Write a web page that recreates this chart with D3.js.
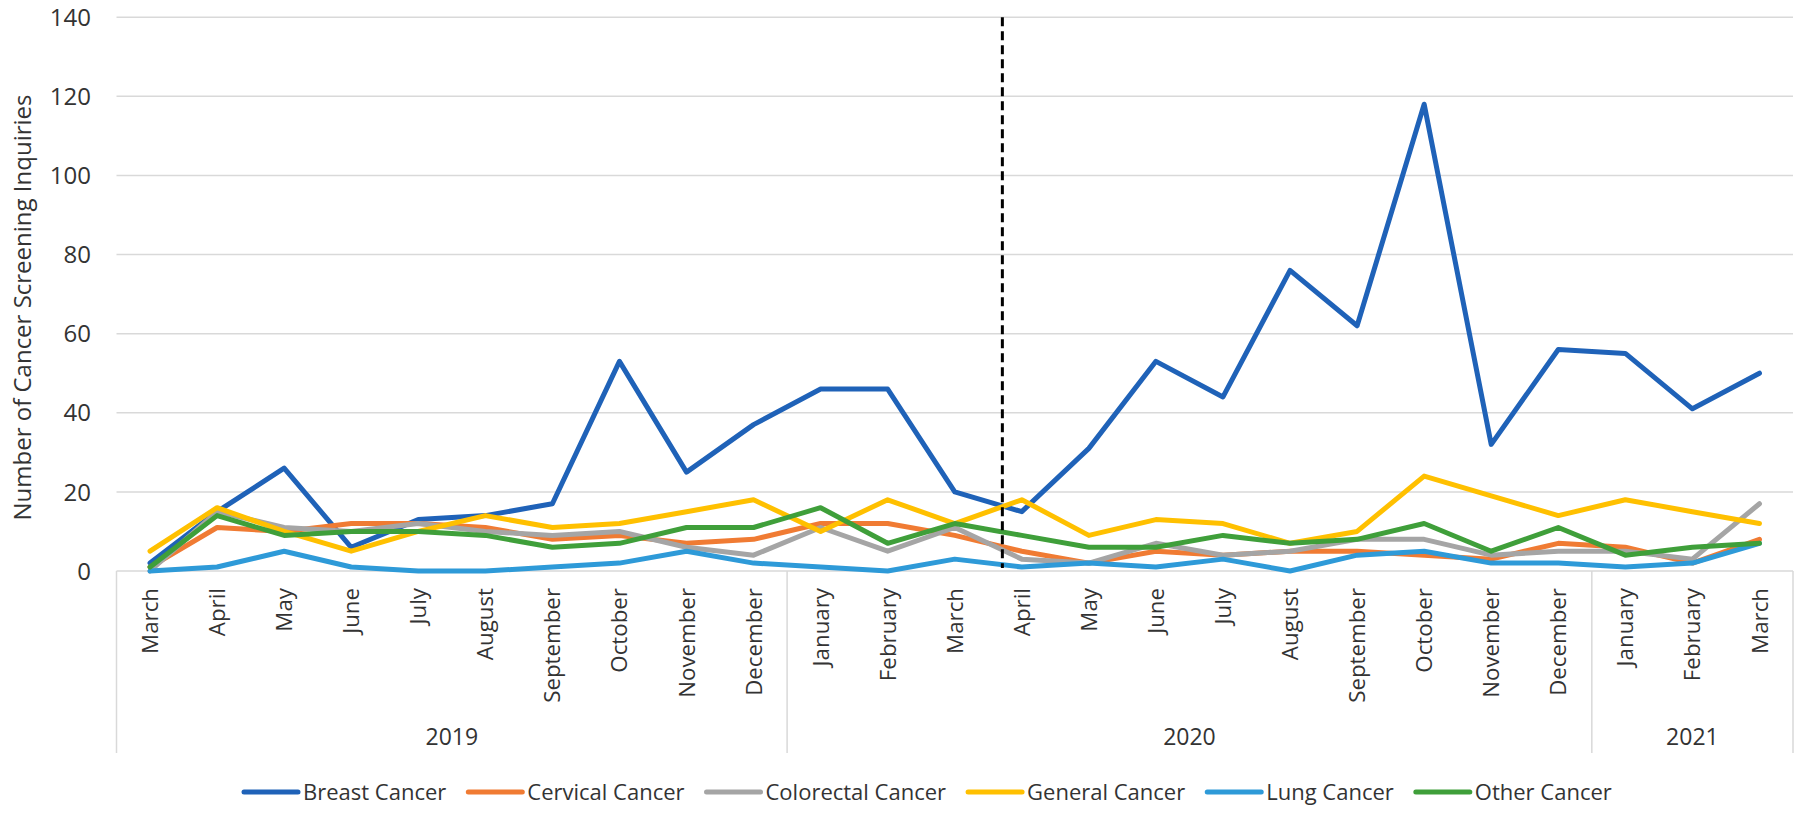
<!DOCTYPE html>
<html>
<head>
<meta charset="utf-8">
<script src="https://cdn.jsdelivr.net/npm/d3@7"></script>
<style>
  html, body { margin: 0; padding: 0; background: #fff; }
  svg { display: block; }
  text { font-family: "Open Sans", "Noto Sans", sans-serif; fill: #333; }
</style>
</head>
<body>
<svg id="chart" width="1800" height="817"></svg>
<script>
// ---------- DATA ----------
const months = ["March","April","May","June","July","August","September","October","November","December",
                "January","February","March","April","May","June","July","August","September","October","November","December",
                "January","February","March"];
const years = [
  { label: "2019", start: 0, end: 9 },
  { label: "2020", start: 10, end: 21 },
  { label: "2021", start: 22, end: 24 }
];
const seriesNames = ["Breast Cancer","Cervical Cancer","Colorectal Cancer","General Cancer","Lung Cancer","Other Cancer"];
const breast     = [2,15,26,6,13,14,17,53,25,37,46,46,20,15,31,53,44,76,62,118,32,56,55,41,50];
const cervical   = [1,11,10,12,12,11,8,9,7,8,12,12,9,5,2,5,4,5,5,4,3,7,6,2,8];
const colorectal = [0,15,11,10,12,10,9,10,6,4,11,5,11,3,2,7,4,5,8,8,4,5,5,3,17];
const general    = [5,16,10,5,10,14,11,12,15,18,10,18,12,18,9,13,12,7,10,24,19,14,18,15,12];
const lung       = [0,1,5,1,0,0,1,2,5,2,1,0,3,1,2,1,3,0,4,5,2,2,1,2,7];
const other      = [1,14,9,10,10,9,6,7,11,11,16,7,12,9,6,6,9,7,8,12,5,11,4,6,7];
const yTicks = [0,20,40,60,80,100,120,140];
const dividerIndex = 12.71; // position of the dashed divider, in month-index units
const yTitle = "Number of Cancer Screening Inquiries";

const colors = ["#1f62b8","#f07b33","#a5a5a5","#ffc000","#2e9ad8","#3f9f3a"];
const seriesValues = [breast, cervical, colorectal, general, lung, other];

// ---------- LAYOUT ----------
const svg = d3.select("#chart");
const plotLeft = 116.5, plotRight = 1793, plotTop = 17.2, plotBottom = 571;
const catBottom = 753;

const x = d3.scaleBand().domain(d3.range(months.length)).range([plotLeft, plotRight]).paddingInner(0).paddingOuter(0);
const bw = x.bandwidth();
const cx = i => x(i) + bw / 2;
const y = d3.scaleLinear().domain([0, 140]).range([plotBottom, plotTop]);

// gridlines
svg.append("g").selectAll("line").data(yTicks).join("line")
  .attr("x1", plotLeft).attr("x2", plotRight)
  .attr("y1", d => y(d)).attr("y2", d => y(d))
  .attr("stroke", "#d9d9d9").attr("stroke-width", 1.5);

// y tick labels
svg.append("g").selectAll("text").data(yTicks).join("text")
  .attr("x", 91).attr("y", d => y(d)).attr("dy", "0.36em")
  .attr("text-anchor", "end").style("font-size", "24px")
  .text(d => d);

// y title
svg.append("text")
  .attr("transform", `translate(31, ${(93 + 522) / 2}) rotate(-90)`)
  .attr("text-anchor", "middle").style("font-size", "24px")
  .text(yTitle);

// category separators (multi-level axis box)
const sepIdx = [0].concat(years.map(d => d.end + 1));
svg.append("g").selectAll("line").data(sepIdx).join("line")
  .attr("x1", d => d < months.length ? x(d) : plotRight)
  .attr("x2", d => d < months.length ? x(d) : plotRight)
  .attr("y1", plotBottom).attr("y2", catBottom)
  .attr("stroke", "#d9d9d9").attr("stroke-width", 1.5);

// month labels
svg.append("g").selectAll("text").data(months).join("text")
  .attr("transform", (d, i) => `translate(${cx(i)}, 588) rotate(-90)`)
  .attr("text-anchor", "end").attr("dy", "0.36em")
  .style("font-size", "22.3px")
  .text(d => d);

// year labels
svg.append("g").selectAll("text").data(years).join("text")
  .attr("x", d => (x(d.start) + (d.end + 1 < months.length ? x(d.end + 1) : plotRight)) / 2)
  .attr("y", 745)
  .attr("text-anchor", "middle").style("font-size", "23px")
  .text(d => d.label);

// lines
const line = d3.line().x((d, i) => cx(i)).y(d => y(d));
svg.append("g").selectAll("path").data(seriesValues).join("path")
  .attr("d", d => line(d))
  .attr("fill", "none")
  .attr("stroke", (d, i) => colors[i])
  .attr("stroke-width", 5)
  .attr("stroke-linejoin", "round")
  .attr("stroke-linecap", "round");

// dashed divider
const divX = cx(0) + dividerIndex * bw;
svg.append("line")
  .attr("x1", divX).attr("x2", divX)
  .attr("y1", y(140)).attr("y2", y(0) - 3)
  .attr("stroke", "#000").attr("stroke-width", 3)
  .attr("stroke-dasharray", "9,5");

// legend
const legend = svg.append("g").attr("transform", "translate(0, 792)");
let lx = 242;
seriesNames.forEach((name, i) => {
  legend.append("line")
    .attr("x1", lx + 2).attr("x2", lx + 56).attr("y1", 0).attr("y2", 0)
    .attr("stroke", colors[i]).attr("stroke-width", 5).attr("stroke-linecap", "round");
  const t = legend.append("text")
    .attr("x", lx + 61).attr("y", 0).attr("dy", "0.35em")
    .style("font-size", "22px").text(name);
  lx = lx + 61 + t.node().getComputedTextLength() + 20;
});
</script>
</body>
</html>
